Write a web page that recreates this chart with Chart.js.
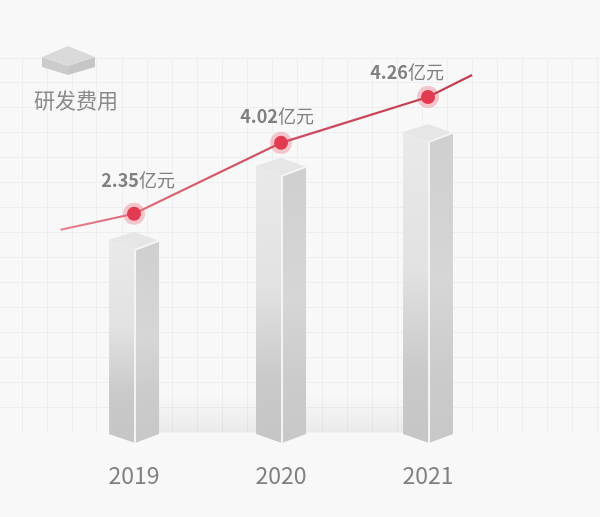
<!DOCTYPE html>
<html lang="zh">
<head>
    <meta charset="UTF-8">
    <title>研发费用</title>
    <style>
        body { margin: 0; background-color: #f8f8f8; }
        canvas { display: block; }
    </style>
</head>
<body>
    <canvas id="chart" width="600" height="517"></canvas>

    <script src="https://cdn.jsdelivr.net/npm/chart.js"></script>
    <script>
        // the picture is not drawn to scale, so heights are read off it in grid cells
        const seriesName = '研发费用';
        const years = [2019, 2020, 2021];
        const values = ['2.35', '4.02', '4.26'];
        const unit = '亿元';
        const barHeights = [7.72, 10.68, 12.04];
        const lineYears = [2018.5, 2019, 2020, 2021, 2021.3];
        const lineHeights = [8.12, 8.76, 11.6, 13.44, 14.32];

        const gridColor = '#eeeeee';
        const textColor = '#808080';
        const fontFamily = '"Noto Sans CJK SC", "Noto Sans", sans-serif';

        function polygon(ctx, points, fill) {
            ctx.beginPath();
            points.forEach((p, i) => i ? ctx.lineTo(p[0], p[1]) : ctx.moveTo(p[0], p[1]));
            ctx.closePath();
            ctx.fillStyle = fill;
            ctx.fill();
        }

        function faceGradient(ctx, top, bottom, stops) {
            const g = ctx.createLinearGradient(0, top, 0, bottom);
            stops.forEach(s => g.addColorStop(s[0], s[1]));
            return g;
        }

        // bars are invisible in the dataset, their elements give the boxes here
        const boxes = {
            id: 'boxes',
            beforeDatasetsDraw(chart) {
                const ctx = chart.ctx;
                const area = chart.chartArea;
                const g = ctx.createLinearGradient(0, area.bottom - 38, 0, area.bottom);
                g.addColorStop(0, 'rgba(0,0,0,0)');
                g.addColorStop(1, 'rgba(0,0,0,0.055)');
                ctx.fillStyle = g;
                ctx.fillRect(150, area.bottom - 38, 260, 38);
            },
            afterDatasetDraw(chart, args) {
                if (args.index !== 0) return;
                const ctx = chart.ctx;
                args.meta.data.forEach(bar => {
                    const half = bar.width / 2;
                    const l = bar.x - half, r = bar.x + half, m = bar.x;
                    const top = bar.y, base = bar.base + 2;
                    polygon(ctx, [[l, top], [m, top - 8], [r, top + 1], [m + 1, top + 10]], '#e6e6e6');
                    polygon(ctx, [[l, top], [m + 1, top + 10], [m + 1, base + 9], [l, base]],
                        faceGradient(ctx, top, base, [[0, '#e9e9e9'], [0.45, '#e2e2e2'], [0.8, '#c9c9c9'], [1, '#c6c6c6']]));
                    polygon(ctx, [[m + 1, top + 10], [r, top + 1], [r, base], [m + 1, base + 9]],
                        faceGradient(ctx, top, base, [[0, '#cfcfcf'], [0.5, '#d6d6d6'], [0.8, '#cbcbcb'], [1, '#c8c8c8']]));
                    ctx.strokeStyle = '#f4f4f4';
                    ctx.lineWidth = 2;
                    ctx.beginPath();
                    ctx.moveTo(r, top + 1);
                    ctx.lineTo(m + 1, top + 10);
                    ctx.lineTo(m + 1, base + 9);
                    ctx.stroke();
                });
            },
            afterDatasetsDraw(chart) {
                const ctx = chart.ctx;
                // value labels over the line points
                const points = chart.getDatasetMeta(1).data.slice(1, 4);
                const lift = [[4, 34], [-4, 27], [-21, 25]];
                ctx.textBaseline = 'middle';
                ctx.textAlign = 'left';
                ctx.fillStyle = textColor;
                points.forEach((pt, i) => {
                    ctx.font = 'bold 18px ' + fontFamily;
                    const w1 = ctx.measureText(values[i]).width;
                    ctx.font = '18px ' + fontFamily;
                    const w2 = ctx.measureText(unit).width;
                    const x = pt.x + lift[i][0] - (w1 + w2) / 2;
                    const y = pt.y - lift[i][1];
                    ctx.font = 'bold 18px ' + fontFamily;
                    ctx.fillText(values[i], x, y);
                    ctx.font = '18px ' + fontFamily;
                    ctx.fillText(unit, x + w1, y);
                });

                // legend, icon on top of its text
                polygon(ctx, [[42, 57], [68, 66], [68, 75], [42, 67]], '#cbcbcb');
                polygon(ctx, [[95, 57], [68, 66], [68, 75], [95, 67]], '#c6c6c6');
                polygon(ctx, [[42, 57], [68, 46], [95, 57], [68, 66]], '#dadada');
                ctx.font = '21px ' + fontFamily;
                ctx.fillStyle = '#8a8a8a';
                ctx.fillText(chart.data.datasets[0].label, 34, 100);
            }
        };

        const isYear = ctx => years.includes(lineYears[ctx.dataIndex]);
        const linePoints = lineYears.map((y, i) => ({ x: y, y: lineHeights[i] }));

        new Chart(document.getElementById('chart').getContext('2d'), {
            data: {
                datasets: [{
                    type: 'bar',
                    label: seriesName,
                    data: years.map((y, i) => ({ x: y, y: barHeights[i] })),
                    backgroundColor: 'transparent',
                    barThickness: 50,
                    order: 3
                }, {
                    type: 'line',
                    label: seriesName,
                    data: linePoints,
                    borderWidth: 2.2,
                    borderColor: ctx => {
                        const g = ctx.chart.ctx.createLinearGradient(60, 0, 472, 0);
                        g.addColorStop(0, '#e8808c');
                        g.addColorStop(0.4, '#d4546a');
                        g.addColorStop(1, '#c23a4e');
                        return g;
                    },
                    tension: 0,
                    pointRadius: ctx => isYear(ctx) ? 7 : 0,
                    pointBackgroundColor: '#e23a50',
                    pointBorderWidth: 0,
                    order: 1
                }, {
                    // pink halo behind each point
                    type: 'line',
                    label: seriesName,
                    data: linePoints,
                    showLine: false,
                    pointRadius: ctx => isYear(ctx) ? 11 : 0,
                    pointBackgroundColor: 'rgba(235, 70, 90, 0.28)',
                    pointBorderWidth: 0,
                    order: 2
                }]
            },
            plugins: [boxes],
            options: {
                responsive: false,
                animation: false,
                layout: { padding: { top: 58, bottom: 7, left: 0, right: 0 } },
                plugins: { legend: { display: false }, tooltip: { enabled: false } },
                scales: {
                    x: {
                        type: 'linear',
                        offset: false,
                        min: 2018.088,
                        max: 2022.17,
                        afterBuildTicks: axis => { axis.ticks = years.map(y => ({ value: y })); },
                        grid: { display: false },
                        border: { display: false },
                        ticks: {
                            autoSkip: false,
                            maxRotation: 0,
                            padding: 21,
                            color: textColor,
                            font: { family: fontFamily, size: 23 },
                            callback: v => String(v)
                        }
                    },
                    gridX: {
                        type: 'linear',
                        position: 'top',
                        min: 0,
                        max: 600,
                        afterBuildTicks: axis => {
                            axis.ticks = [];
                            for (let v = 22; v < 600; v += 25) axis.ticks.push({ value: v });
                        },
                        grid: { color: gridColor, drawTicks: false },
                        border: { display: false },
                        ticks: { display: false }
                    },
                    y: {
                        min: 0,
                        max: 15,
                        grid: {
                            color: ctx => ctx.tick.value === 0 ? 'transparent' : gridColor,
                            drawTicks: false
                        },
                        border: { display: false },
                        ticks: { display: false, stepSize: 1 }
                    }
                }
            }
        });
    </script>
</body>
</html>
